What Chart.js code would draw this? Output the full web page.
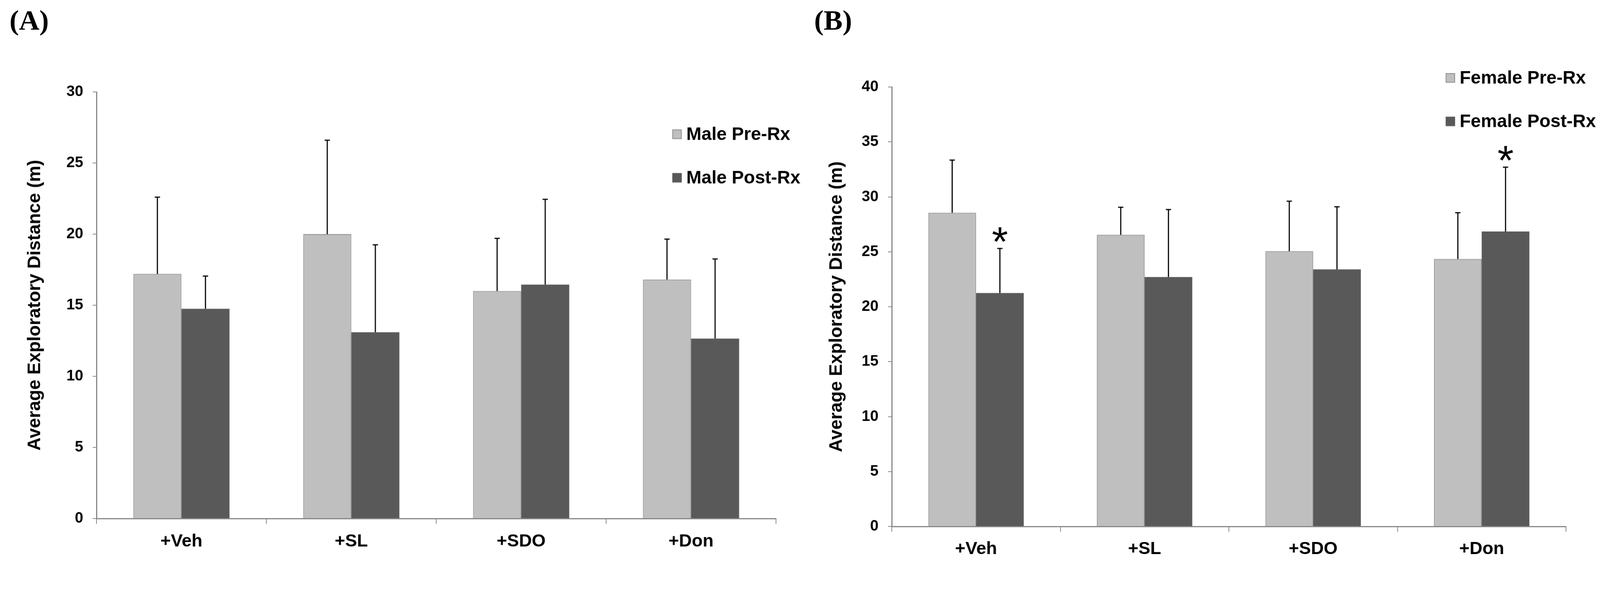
<!DOCTYPE html>
<html><head><meta charset="utf-8">
<script src="https://cdn.jsdelivr.net/npm/chart.js@4.4.1/dist/chart.umd.min.js"></script>
<style>
html,body{margin:0;padding:0;background:#fff;overflow:hidden;}
#stage{position:absolute;left:0;top:0;width:4229px;height:1511px;transform-origin:0 0;background:#fff;}
.wrap{position:absolute;top:0;height:1511px;}
.panel{position:absolute;top:15px;font-family:"Liberation Serif","Times New Roman",serif;font-weight:bold;font-size:75px;line-height:1;color:#000;}
</style></head><body>
<div id="stage">
<div class="panel" style="left:25px">(A)</div>
<div class="panel" style="left:2152px">(B)</div>
<div class="wrap" style="left:0;width:2150px"><canvas id="cA"></canvas></div>
<div class="wrap" style="left:2150px;width:2079px"><canvas id="cB"></canvas></div>
</div>
<script>
// ---- data ----
const categories = ['+Veh', '+SL', '+SDO', '+Don'];
const maleLabels = ['Male Pre-Rx', 'Male Post-Rx'];
const femaleLabels = ['Female Pre-Rx', 'Female Post-Rx'];
const malePre = [17.2, 20.0, 16.0, 16.8];
const malePreErr = [5.4, 6.6, 3.7, 2.85];
const malePost = [14.75, 13.1, 16.45, 12.65];
const malePostErr = [2.3, 6.15, 6.0, 5.6];
const femalePre = [28.55, 26.55, 25.05, 24.35];
const femalePreErr = [4.8, 2.5, 4.55, 4.2];
const femalePost = [21.25, 22.7, 23.4, 26.85];
const femalePostErr = [4.05, 6.15, 5.7, 5.85];
const femalePostSig = ['*', '', '', '*'];
const maleAxisMax = 30;
const femaleAxisMax = 40;
const tickStep = 5;
const yTitle = 'Average Exploratory Distance (m)';

// ---- fit the 4229x1511 stage to the window ----
const W = 4229, H = 1511;
const fit = Math.min((window.innerWidth || W) / W, (window.innerHeight || H) / H);
document.getElementById('stage').style.transform = 'scale(' + fit + ')';
const DPR = (window.devicePixelRatio || 1) * Math.max(fit, 1);

// ---- style ----
const LIGHT = '#bfbfbf', LIGHT_BORDER = '#8c8c8c', DARK = '#595959', AXIS = '#868686';
const FONT = '"Liberation Sans", Arial, sans-serif';

const errorBarPlugin = {
  id: 'errorBars',
  afterDatasetsDraw(chart) {
    const ctx = chart.ctx, ys = chart.scales.y;
    chart.data.datasets.forEach((ds, i) => {
      if (!ds.errorBars) return;
      const meta = chart.getDatasetMeta(i);
      meta.data.forEach((el, j) => {
        const top = ys.getPixelForValue(ds.data[j] + ds.errorBars[j]);
        ctx.save();
        ctx.strokeStyle = '#000';
        ctx.lineWidth = 3;
        ctx.beginPath();
        ctx.moveTo(el.x, el.y);
        ctx.lineTo(el.x, top);
        ctx.moveTo(el.x - 7, top);
        ctx.lineTo(el.x + 7, top);
        ctx.stroke();
        if (ds.sig && ds.sig[j]) {
          ctx.fillStyle = '#000';
          ctx.font = '110px ' + FONT;
          ctx.textAlign = 'center';
          ctx.textBaseline = 'alphabetic';
          const m = ctx.measureText(ds.sig[j]);
          const cy = top - 37;
          ctx.fillText(ds.sig[j], el.x, cy + (m.actualBoundingBoxAscent - m.actualBoundingBoxDescent) / 2);
        }
        ctx.restore();
      });
    });
  }
};

const legendPlugin = {
  id: 'boxLegend',
  afterDraw(chart, args, opts) {
    const ctx = chart.ctx;
    chart.data.datasets.forEach((ds, i) => {
      const cy = opts.rows[i];
      ctx.save();
      ctx.fillStyle = ds.backgroundColor;
      ctx.fillRect(opts.x, cy - 12.5, 25, 25);
      if (ds.borderWidth) {
        ctx.strokeStyle = ds.borderColor;
        ctx.lineWidth = 2;
        ctx.strokeRect(opts.x + 1, cy - 11.5, 23, 23);
      }
      ctx.fillStyle = '#000';
      ctx.font = 'bold 48px ' + FONT;
      ctx.textAlign = 'left';
      ctx.textBaseline = 'middle';
      ctx.fillText(ds.label, opts.textX, cy + 2);
      ctx.restore();
    });
  }
};

function makeChart(id, labels, pre, preErr, post, postErr, postSig, axisMax, cfg) {
  return new Chart(document.getElementById(id), {
    type: 'bar',
    data: {
      labels: categories,
      datasets: [
        { label: labels[0], data: pre, errorBars: preErr, backgroundColor: LIGHT, borderColor: LIGHT_BORDER, borderWidth: 2,
          categoryPercentage: 0.566, barPercentage: 1.0 },
        { label: labels[1], data: post, errorBars: postErr, sig: postSig, backgroundColor: DARK, borderColor: DARK, borderWidth: 0,
          categoryPercentage: 0.566, barPercentage: 1.0 }
      ]
    },
    options: {
      responsive: true,
      maintainAspectRatio: false,
      animation: false,
      devicePixelRatio: DPR,
      layout: { padding: { left: 0, right: cfg.padRight, top: cfg.padTop, bottom: 0 } },
      plugins: {
        legend: { display: false },
        tooltip: { enabled: false },
        boxLegend: { x: cfg.legX, textX: cfg.legTextX, rows: cfg.legRows }
      },
      scales: {
        x: {
          z: 1,
          offset: true,
          grid: { offset: true, drawOnChartArea: false, drawTicks: true, tickLength: 14, color: AXIS, lineWidth: 2 },
          border: { display: true, color: AXIS, width: 3 },
          ticks: { color: '#000', font: { family: FONT, size: 47, weight: 'bold' }, padding: cfg.xPad, maxRotation: 0 },
          afterFit: s => { s.height = cfg.xHeight; }
        },
        y: {
          min: 0, max: axisMax,
          grid: { drawOnChartArea: false, drawTicks: true, tickLength: 10, color: AXIS, lineWidth: 2 },
          border: { display: true, color: AXIS, width: 3 },
          ticks: { stepSize: tickStep, color: '#000', font: { family: FONT, size: 40, weight: 'bold' }, padding: 25 },
          title: { display: true, text: yTitle, color: '#000', font: { family: FONT, size: 48, weight: 'bold' },
                   padding: { top: cfg.titlePad, bottom: 0 } },
          afterFit: s => { s.width = cfg.yWidth; }
        }
      }
    },
    plugins: [errorBarPlugin, legendPlugin]
  });
}

makeChart('cA', maleLabels, malePre, malePreErr, malePost, malePostErr, null, maleAxisMax,
  { padRight: 99, padTop: 243, xHeight: 140, yWidth: 255, titlePad: 64, xPad: 19,
    legX: 1777, legTextX: 1814, legRows: [355, 470] });
makeChart('cB', femaleLabels, femalePre, femalePreErr, femalePost, femalePostErr, femalePostSig, femaleAxisMax,
  { padRight: 90, padTop: 230, xHeight: 119, yWidth: 207, titlePad: 33, xPad: 18,
    legX: 1671, legTextX: 1708, legRows: [206, 321] });
</script>
</body></html>
